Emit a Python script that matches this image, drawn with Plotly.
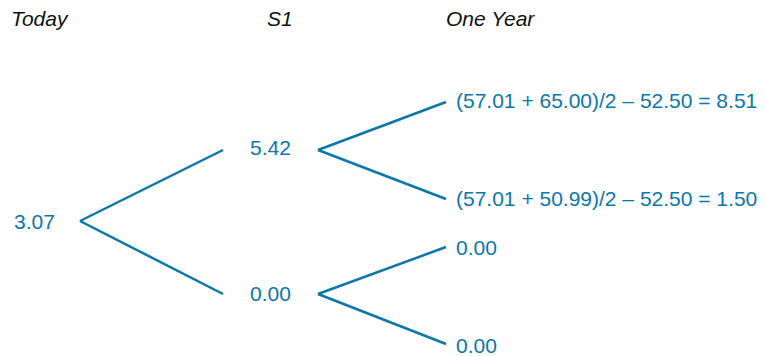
import plotly.graph_objects as go

# ---- data ----
stage_names = ["Today", "S1", "One Year"]
today_value = [3.07]
s1_values = [5.42, 0.00]
avg_first = [57.01, 57.01]          # first averaging price on the up branches
avg_second = [65.00, 50.99]         # second averaging price
strike = [52.50, 52.50]
final_values = [8.51, 1.50, 0.00, 0.00]

# ---- layout constants (pixel-like coordinate system) ----
W, H = 765, 356
BLUE = "#0b77ab"
FONT = "Liberation Sans, Arial, Helvetica, sans-serif"
FS = 21
header_x = [10, 266, 445]
header_y = 18
label_x = [13, 249, 455]
vertex_x = [80, 318]
branch_end_x = [223, 446]
node_y = [[221], [150, 294], [102, 199, 247, 344]]
text_dy = [[0], [-3, -1], [-2, -1, 0, 1]]

# labels
stage_labels = [
    [f"{v:.2f}" for v in today_value],
    [f"{v:.2f}" for v in s1_values],
    [f"({a:.2f} + {b:.2f})/2 \u2013 {k:.2f} = {v:.2f}"
     for a, b, k, v in zip(avg_first, avg_second, strike, final_values[:2])]
    + [f"{v:.2f}" for v in final_values[2:]],
]

fig = go.Figure()

# branches
for s in range(2):
    for i, y0 in enumerate(node_y[s]):
        for j in (2 * i, 2 * i + 1):
            y1 = node_y[s + 1][j]
            fig.add_trace(go.Scatter(
                x=[vertex_x[s], branch_end_x[s]], y=[y0, y1],
                mode="lines", line=dict(color=BLUE, width=2.5),
                hoverinfo="skip", showlegend=False))

annotations = []
for s, name in enumerate(stage_names):
    annotations.append(dict(
        x=header_x[s], y=header_y, xref="x", yref="y",
        text=f"<i>{name}</i>", showarrow=False,
        xanchor="left", yanchor="middle", borderpad=0,
        font=dict(family=FONT, size=FS, color="#111111")))
    for k, lab in enumerate(stage_labels[s]):
        annotations.append(dict(
            x=label_x[s], y=node_y[s][k] + text_dy[s][k], xref="x", yref="y",
            text=lab, showarrow=False,
            xanchor="left", yanchor="middle", borderpad=0,
            font=dict(family=FONT, size=FS, color=BLUE)))

fig.update_layout(
    width=W, height=H,
    margin=dict(l=0, r=0, t=0, b=0),
    paper_bgcolor="white", plot_bgcolor="white",
    annotations=annotations,
    xaxis=dict(range=[0, W], visible=False, fixedrange=True),
    yaxis=dict(range=[H, 0], visible=False, fixedrange=True),
)

fig.write_html(
    "out.html",
    config={"displayModeBar": False},
    post_script="document.body.style.margin='0px';document.body.style.overflow='hidden';",
)
